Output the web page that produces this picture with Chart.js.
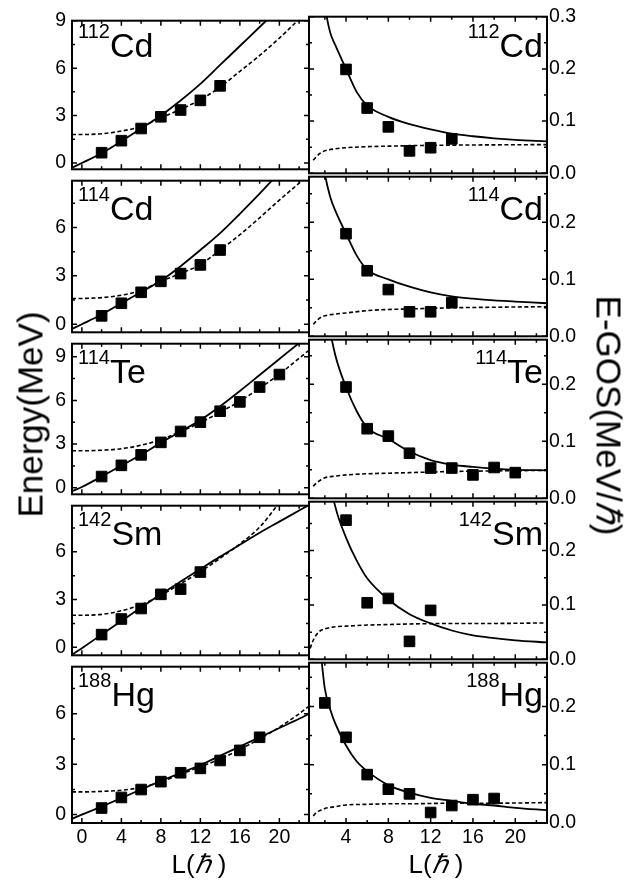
<!DOCTYPE html>
<html>
<head>
<meta charset="utf-8">
<script src="https://cdn.jsdelivr.net/npm/chart.js@4.4.0/dist/chart.umd.min.js"></script>
<style>
    body { margin: 0; width: 632px; height: 886px; position: relative; overflow: hidden; background: #fff;
           font-family: "Liberation Sans", Arial, sans-serif; color: #000; }
    canvas { position: absolute; left: 0; }
    .iso { position: absolute; font-size: 34px; line-height: 34px; white-space: nowrap; }
    .iso span { font-size: 20px; line-height: 0; vertical-align: 19px; }
    .right { text-align: right; }
    .title { position: absolute; width: 320px; text-align: center; font-size: 35px; line-height: 35px; white-space: nowrap; }
    .xtitle { position: absolute; width: 100px; text-align: center; font-size: 26px; line-height: 26px; white-space: nowrap; }
</style>
</head>
<body>
<script>
// nuclei
const MASS = ['112', '114', '114', '142', '188'];
const SYMBOL = ['Cd', 'Cd', 'Te', 'Sm', 'Hg'];

// experimental spins
const L_EXP = [2, 4, 6, 8, 10, 12, 14, 16, 18, 20];

const E_EXP_112CD = [0.65, 1.41, 2.18, 2.92, 3.35, 3.96, 4.88];
const E_EXP_114CD = [0.52, 1.3, 1.98, 2.66, 3.14, 3.68, 4.6];
const E_EXP_114TE = [0.77, 1.54, 2.26, 3.12, 3.87, 4.51, 5.26, 5.9, 6.92, 7.78];
const E_EXP_142SM = [0.8, 1.78, 2.44, 3.33, 3.66, 4.73];
const E_EXP_188HG = [0.39, 1.02, 1.49, 1.96, 2.49, 2.75, 3.22, 3.82, 4.6];

const GOS_EXP_112CD = [null, 0.199, 0.125, 0.089, 0.043, 0.049, 0.066];
const GOS_EXP_114CD = [null, 0.18, 0.115, 0.082, 0.043, 0.043, 0.059];
const GOS_EXP_114TE = [null, 0.195, 0.122, 0.109, 0.079, 0.053, 0.053, 0.041, 0.054, 0.045];
const GOS_EXP_142SM = [null, 0.256, 0.104, 0.112, 0.033, 0.09];
const GOS_EXP_188HG = [0.206, 0.147, 0.083, 0.058, 0.05, 0.018, 0.03, 0.04, 0.042];

// model curves, energy
const L_FIT = [-1, 0, 2, 4, 6, 8, 10, 12, 14, 16, 18, 20, 22, 23];

const E_SOLID_112CD = [-0.3, 0.0, 0.62, 1.38, 2.18, 3.0, 3.95, 5.0, 6.2, 7.4, 8.6, 9.8, 11.0, 11.6];
const E_DASH_112CD  = [1.8, 1.8, 1.85, 2.02, 2.3, 2.85, 3.4, 4.0, 4.8, 5.8, 6.8, 7.9, 9.1, 9.7];
const E_SOLID_114CD = [-0.29, 0.0, 0.6, 1.3, 2.0, 2.7, 3.6, 4.6, 5.65, 6.85, 8.1, 9.4, 10.7, 11.4];
const E_DASH_114CD  = [1.59, 1.6, 1.65, 1.8, 2.1, 2.66, 3.15, 3.7, 4.6, 5.55, 6.6, 7.7, 8.75, 9.3];
const E_SOLID_114TE = [-0.24, 0.05, 0.77, 1.52, 2.27, 3.1, 3.87, 4.65, 5.6, 6.65, 7.75, 8.85, 9.95, 10.5];
const E_DASH_114TE  = [2.54, 2.54, 2.58, 2.68, 2.93, 3.3, 3.87, 4.47, 5.2, 5.95, 6.85, 7.8, 8.9, 9.45];
const E_SOLID_142SM = [-0.47, -0.05, 0.8, 1.65, 2.5, 3.33, 4.13, 4.92, 5.7, 6.45, 7.2, 7.9, 8.6, 8.95];
const E_DASH_142SM  = [2.02, 2.02, 2.07, 2.3, 2.68, 3.27, 4.0, 4.75, 5.6, 6.5, 7.55, 9.1, 10.8, 11.6];
const E_SOLID_188HG = [-0.25, 0.0, 0.48, 0.98, 1.5, 2.0, 2.48, 2.95, 3.5, 4.05, 4.6, 5.15, 5.7, 6.0];
const E_DASH_188HG  = [1.35, 1.35, 1.38, 1.45, 1.62, 1.95, 2.4, 2.85, 3.3, 3.88, 4.5, 5.2, 6.0, 6.45];

// model curves, E-GOS
const L_GOS_FIT = [1.5, 1.8, 2, 2.5, 3, 4, 5, 6, 8, 10, 12, 14, 16, 18, 20, 23];

const GOS_SOLID_112CD = [0.43, 0.35, 0.32, 0.27, 0.245, 0.2, 0.156, 0.13, 0.108, 0.094, 0.084, 0.076, 0.071, 0.067, 0.064, 0.061];
const GOS_SOLID_114CD = [0.38, 0.31, 0.285, 0.245, 0.22, 0.18, 0.142, 0.117, 0.1, 0.087, 0.077, 0.07, 0.066, 0.063, 0.061, 0.058];
const GOS_SOLID_114TE = [0.55, 0.42, 0.37, 0.295, 0.25, 0.195, 0.153, 0.124, 0.104, 0.082, 0.067, 0.059, 0.055, 0.052, 0.05, 0.049];
const GOS_SOLID_142SM = [0.7, 0.5, 0.44, 0.33, 0.28, 0.224, 0.182, 0.149, 0.11, 0.083, 0.066, 0.053, 0.044, 0.039, 0.035, 0.031];
const GOS_SOLID_188HG = [0.31, 0.26, 0.23, 0.195, 0.17, 0.133, 0.106, 0.089, 0.065, 0.052, 0.043, 0.038, 0.033, 0.03, 0.026, 0.022];

const L_GOS_DASH = [0.6, 0.9, 1.2, 1.6, 2, 3, 4, 6, 8, 10, 14, 18, 23];

const GOS_DASH_112CD = [null, 0.025, 0.032, 0.039, 0.043, 0.047, 0.049, 0.051, 0.052, 0.053, 0.054, 0.0545, 0.055];
const GOS_DASH_114CD = [null, 0.021, 0.027, 0.033, 0.036, 0.039, 0.041, 0.045, 0.047, 0.048, 0.05, 0.051, 0.052];
const GOS_DASH_114TE = [null, 0.021, 0.027, 0.032, 0.036, 0.039, 0.041, 0.043, 0.044, 0.045, 0.047, 0.048, 0.049];
const GOS_DASH_142SM = [0.02, 0.035, 0.045, 0.053, 0.056, 0.06, 0.061, 0.063, 0.064, 0.065, 0.066, 0.066, 0.067];
const GOS_DASH_188HG = [null, 0.012, 0.018, 0.022, 0.025, 0.028, 0.031, 0.032, 0.033, 0.033, 0.034, 0.034, 0.035];

// tick labels
const X_TICKS = [0, 4, 8, 12, 16, 20];
const E_TICKS = [0, 3, 6, 9];
const GOS_TICKS = [0, 0.1, 0.2, 0.3];

// axis ranges per row
const X_RANGE_LEFT = [-1, 23];
const X_RANGE_RIGHT = [0.5, 23];
const E_RANGES = [[-0.4, 9], [-0.5, 8.9], [-0.45, 9.9], [-0.5, 8.9], [-0.5, 8.8]];
const GOS_RANGES = [[0, 0.3], [0, 0.28], [0, 0.278], [0, 0.29], [0, 0.275]];

const E_EXP = [E_EXP_112CD, E_EXP_114CD, E_EXP_114TE, E_EXP_142SM, E_EXP_188HG];
const E_SOLID = [E_SOLID_112CD, E_SOLID_114CD, E_SOLID_114TE, E_SOLID_142SM, E_SOLID_188HG];
const E_DASH = [E_DASH_112CD, E_DASH_114CD, E_DASH_114TE, E_DASH_142SM, E_DASH_188HG];
const GOS_EXP = [GOS_EXP_112CD, GOS_EXP_114CD, GOS_EXP_114TE, GOS_EXP_142SM, GOS_EXP_188HG];
const GOS_SOLID = [GOS_SOLID_112CD, GOS_SOLID_114CD, GOS_SOLID_114TE, GOS_SOLID_142SM, GOS_SOLID_188HG];
const GOS_DASH = [GOS_DASH_112CD, GOS_DASH_114CD, GOS_DASH_114TE, GOS_DASH_142SM, GOS_DASH_188HG];

// page layout
const ROW_EDGES = [15, 175, 338, 500, 661, 823];
const PLOT_LEFT = 72, PLOT_MID = 309, PLOT_RIGHT = 547, PAGE_W = 632;
const FONT = '"Liberation Sans", Arial, sans-serif';
const TICK_SIZE = 19.5;

function pts(xs, ys) {
    return ys.map((y, i) => ({ x: xs[i], y: y })).filter(p => p.y !== null);
}

// box round the plot with inward ticks on all four sides
const framePlugin = {
    id: 'frame',
    afterDatasetsDraw(chart, args, opts) {
        const ctx = chart.ctx;
        const a = chart.chartArea;
        const x = chart.scales.x, y = chart.scales.y;
        ctx.save();
        ctx.strokeStyle = '#000';
        ctx.lineWidth = 1.5;
        ctx.beginPath();
        for (let i = Math.ceil(x.min / 2); i * 2 <= x.max; i++) {
            const px = x.getPixelForValue(i * 2);
            const len = i % 2 === 0 ? 5 : 3;
            ctx.moveTo(px, a.bottom); ctx.lineTo(px, a.bottom - len);
            ctx.moveTo(px, a.top); ctx.lineTo(px, a.top + len);
        }
        const m = opts.yMinor;
        for (let i = Math.ceil(y.min / m - 1e-6); i * m <= y.max + 1e-9; i++) {
            const py = y.getPixelForValue(i * m);
            const len = i % 2 === 0 ? 5 : 3;
            ctx.moveTo(a.left, py); ctx.lineTo(a.left + len, py);
            ctx.moveTo(a.right, py); ctx.lineTo(a.right - len, py);
        }
        ctx.stroke();
        ctx.lineWidth = 2;
        ctx.strokeRect(a.left, a.top, a.right - a.left, a.bottom - a.top);
        ctx.restore();
    }
};

function makePanel(row, col) {
    const bottomRow = row === 4;
    const canvas = document.createElement('canvas');
    const h = ROW_EDGES[row + 1] - ROW_EDGES[row] + 24 + (bottomRow ? 48 : 0);
    canvas.width = PAGE_W;
    canvas.height = h;
    canvas.style.top = (ROW_EDGES[row] - 12) + 'px';
    document.body.appendChild(canvas);

    const isE = col === 0;
    const xr = isE ? X_RANGE_LEFT : X_RANGE_RIGHT;
    const yr = isE ? E_RANGES[row] : GOS_RANGES[row];
    const yTicks = isE ? E_TICKS : GOS_TICKS;

    const expData = pts(L_EXP, isE ? E_EXP[row] : GOS_EXP[row]);
    const solidData = isE ? pts(L_FIT, E_SOLID[row]) : pts(L_GOS_FIT, GOS_SOLID[row]);
    const dashData = isE ? pts(L_FIT, E_DASH[row]) : pts(L_GOS_DASH, GOS_DASH[row]);

    const lineBase = {
        showLine: true, borderColor: '#000', pointRadius: 0,
        cubicInterpolationMode: 'monotone', fill: false
    };

    new Chart(canvas, {
        type: 'scatter',
        data: {
            datasets: [
                {
                    data: expData, showLine: false, pointStyle: 'rect', pointRadius: 7.5,
                    pointBackgroundColor: '#000', pointBorderColor: '#000', pointBorderWidth: 1
                },
                Object.assign({ data: solidData, borderWidth: 1.8 }, lineBase),
                Object.assign({ data: dashData, borderWidth: 1.6, borderDash: [4, 2.5] }, lineBase)
            ]
        },
        options: {
            animation: false,
            responsive: false,
            events: [],
            elements: { line: { capBezierPoints: false } },
            layout: {
                padding: {
                    top: 12,
                    bottom: bottomRow ? 20 : 12,
                    left: isE ? 0 : PLOT_MID,
                    right: isE ? PAGE_W - PLOT_MID : PAGE_W - PLOT_RIGHT - 40
                }
            },
            plugins: {
                legend: { display: false },
                tooltip: { enabled: false },
                frame: { yMinor: isE ? 1.5 : 0.05 }
            },
            scales: {
                x: {
                    type: 'linear', position: 'bottom', min: xr[0], max: xr[1],
                    display: bottomRow,
                    grid: { display: false, drawTicks: false },
                    border: { display: false },
                    ticks: { padding: 3, color: '#000', font: { family: FONT, size: TICK_SIZE }, autoSkip: false, maxRotation: 0 },
                    afterBuildTicks: s => { s.ticks = X_TICKS.filter(v => v >= xr[0] && v <= xr[1]).map(v => ({ value: v })); },
                    afterFit: s => { s.height = bottomRow ? 40 : 0; }
                },
                y: {
                    type: 'linear', position: isE ? 'left' : 'right', min: yr[0], max: yr[1],
                    grid: { display: false, drawTicks: false },
                    border: { display: false },
                    ticks: {
                        padding: isE ? 6 : 2, color: '#000', font: { family: FONT, size: TICK_SIZE },
                        callback: v => isE ? String(v) : v.toFixed(1)
                    },
                    afterBuildTicks: s => { s.ticks = yTicks.filter(v => v >= yr[0] && v <= yr[1] + 1e-9).map(v => ({ value: v })); },
                    afterFit: s => { s.width = isE ? PLOT_LEFT : 40; }
                }
            }
        },
        plugins: [framePlugin]
    });
}

function addLabel(row, col) {
    const div = document.createElement('div');
    div.className = 'iso' + (col ? ' right' : '');
    const base = ROW_EDGES[row] + (row === 0 ? 41.5 : 44.5);
    div.style.top = (base - 28.8) + 'px';
    if (col) {
        div.style.right = (PAGE_W - 543) + 'px';
    } else {
        div.style.left = '78px';
    }
    div.innerHTML = `<span>${MASS[row]}</span>${SYMBOL[row]}`;
    document.body.appendChild(div);
}

for (let r = 0; r < 5; r++) {
    makePanel(r, 0);
    makePanel(r, 1);
    addLabel(r, 0);
    addLabel(r, 1);
}

// axis titles
document.body.insertAdjacentHTML('beforeend', `
    <div class="title" style="left:-130px; top:397px; transform:rotate(-90deg);">Energy(MeV)</div>
    <div class="title" style="left:449px; top:398px; transform:rotate(90deg);">E-GOS(MeV/<i>ℏ</i>)</div>
    <div class="xtitle" style="left:149px; top:851px;">L(<i>ℏ</i> )</div>
    <div class="xtitle" style="left:386px; top:851px;">L(<i>ℏ</i> )</div>
`);
</script>
</body>
</html>
